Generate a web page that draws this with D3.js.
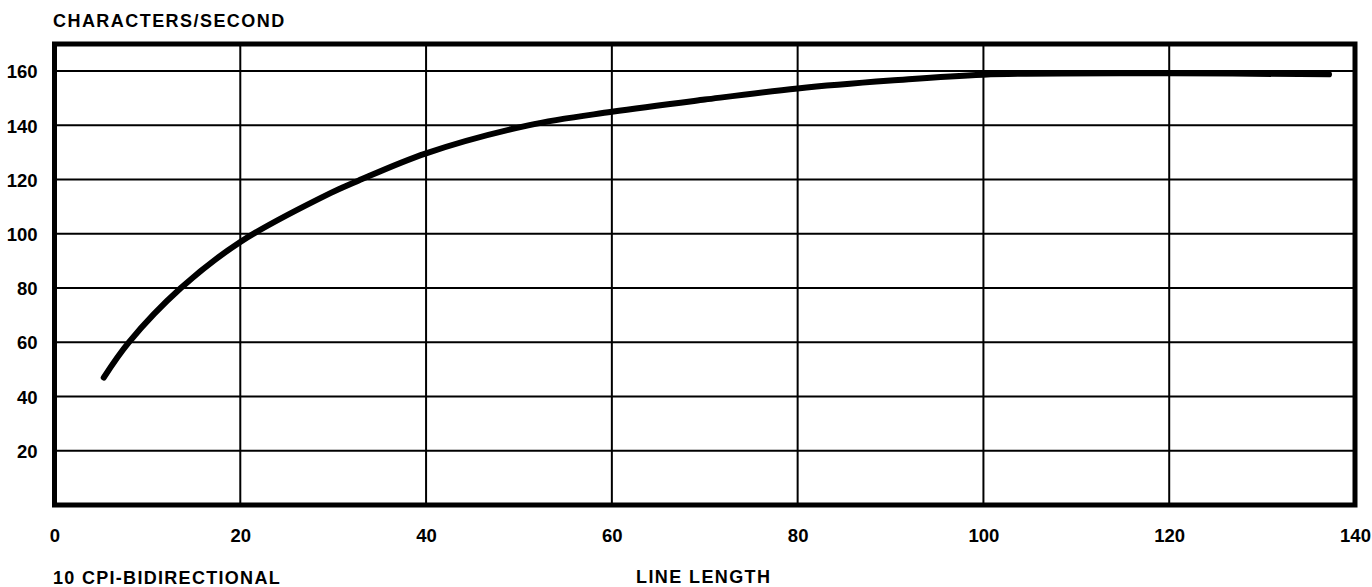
<!DOCTYPE html>
<html>
<head>
<meta charset="utf-8">
<script src="https://cdn.jsdelivr.net/npm/d3@7"></script>
<style>
  html, body { margin: 0; padding: 0; background: #fff; }
  svg { display: block; }
  text { font-family: "Liberation Sans", Arial, Helvetica, sans-serif; font-weight: bold; fill: #000; }
</style>
</head>
<body>
<svg id="chart" width="1372" height="587"></svg>
<script>
// ---- data ----
const lineLength = [5.3, 8, 13.6, 20, 29.7, 32.7, 40, 51, 60, 70, 80, 90, 100, 120, 137.2];
const charsPerSecond = [47, 60, 80, 97, 115, 119.6, 129.7, 140, 145, 149.5, 153.6, 156.5, 158.7, 159.2, 158.8];
const xTicks = [0, 20, 40, 60, 80, 100, 120, 140];
const yTicks = [20, 40, 60, 80, 100, 120, 140, 160];
const yTitle = "CHARACTERS/SECOND";
const xTitle = "LINE LENGTH";
const note = "10 CPI-BIDIRECTIONAL";

// ---- layout ----
const svg = d3.select("#chart");
const x = d3.scaleLinear().domain([0, 140]).range([54.5, 1355]);
const y = d3.scaleLinear().domain([0, 170]).range([505, 44]);

// grid
const grid = svg.append("g").attr("stroke", "#000").attr("stroke-width", 2);
grid.selectAll("line.v").data(xTicks.filter(d => d > 0 && d < 140)).join("line")
  .attr("class", "v")
  .attr("x1", d => x(d)).attr("x2", d => x(d))
  .attr("y1", y(170)).attr("y2", y(0));
grid.selectAll("line.h").data(yTicks).join("line")
  .attr("class", "h")
  .attr("x1", x(0)).attr("x2", x(140))
  .attr("y1", d => y(d)).attr("y2", d => y(d));

// curve
const pts = lineLength.map((d, i) => [d, charsPerSecond[i]]);
svg.append("path")
  .datum(pts)
  .attr("fill", "none")
  .attr("stroke", "#000")
  .attr("stroke-width", 6)
  .attr("stroke-linecap", "round")
  .attr("stroke-linejoin", "round")
  .attr("d", d3.line().x(d => x(d[0])).y(d => y(d[1])).curve(d3.curveCatmullRom.alpha(0.5)));

// frame
svg.append("rect")
  .attr("x", x(0)).attr("y", y(170))
  .attr("width", x(140) - x(0)).attr("height", y(0) - y(170))
  .attr("fill", "none").attr("stroke", "#000").attr("stroke-width", 5);

// axes (labels only)
const yAxis = d3.axisLeft(y).tickValues(yTicks).tickSize(0).tickPadding(17);
const gy = svg.append("g").attr("transform", `translate(${x(0)},0)`).call(yAxis);
gy.select(".domain").remove();
gy.selectAll("text")
  .style("font-size", "18.5px").style("font-family", "'Liberation Sans', Arial, sans-serif")
  .style("font-weight", "bold").attr("fill", "#000").attr("dy", "0.36em");

const xAxis = d3.axisBottom(x).tickValues(xTicks).tickSize(0).tickPadding(24);
const gx = svg.append("g").attr("transform", `translate(0,${y(0)})`).call(xAxis);
gx.select(".domain").remove();
gx.selectAll("text")
  .style("font-size", "18.5px").style("font-family", "'Liberation Sans', Arial, sans-serif")
  .style("font-weight", "bold").attr("fill", "#000");

// titles
svg.append("text").attr("x", 53).attr("y", 27)
  .style("font-size", "18px").style("letter-spacing", "1.45px").text(yTitle);
svg.append("text").attr("x", 53).attr("y", 584)
  .style("font-size", "18px").style("letter-spacing", "1.3px").text(note);
svg.append("text").attr("x", 636).attr("y", 583)
  .style("font-size", "18px").style("letter-spacing", "1.4px").text(xTitle);
</script>
</body>
</html>
